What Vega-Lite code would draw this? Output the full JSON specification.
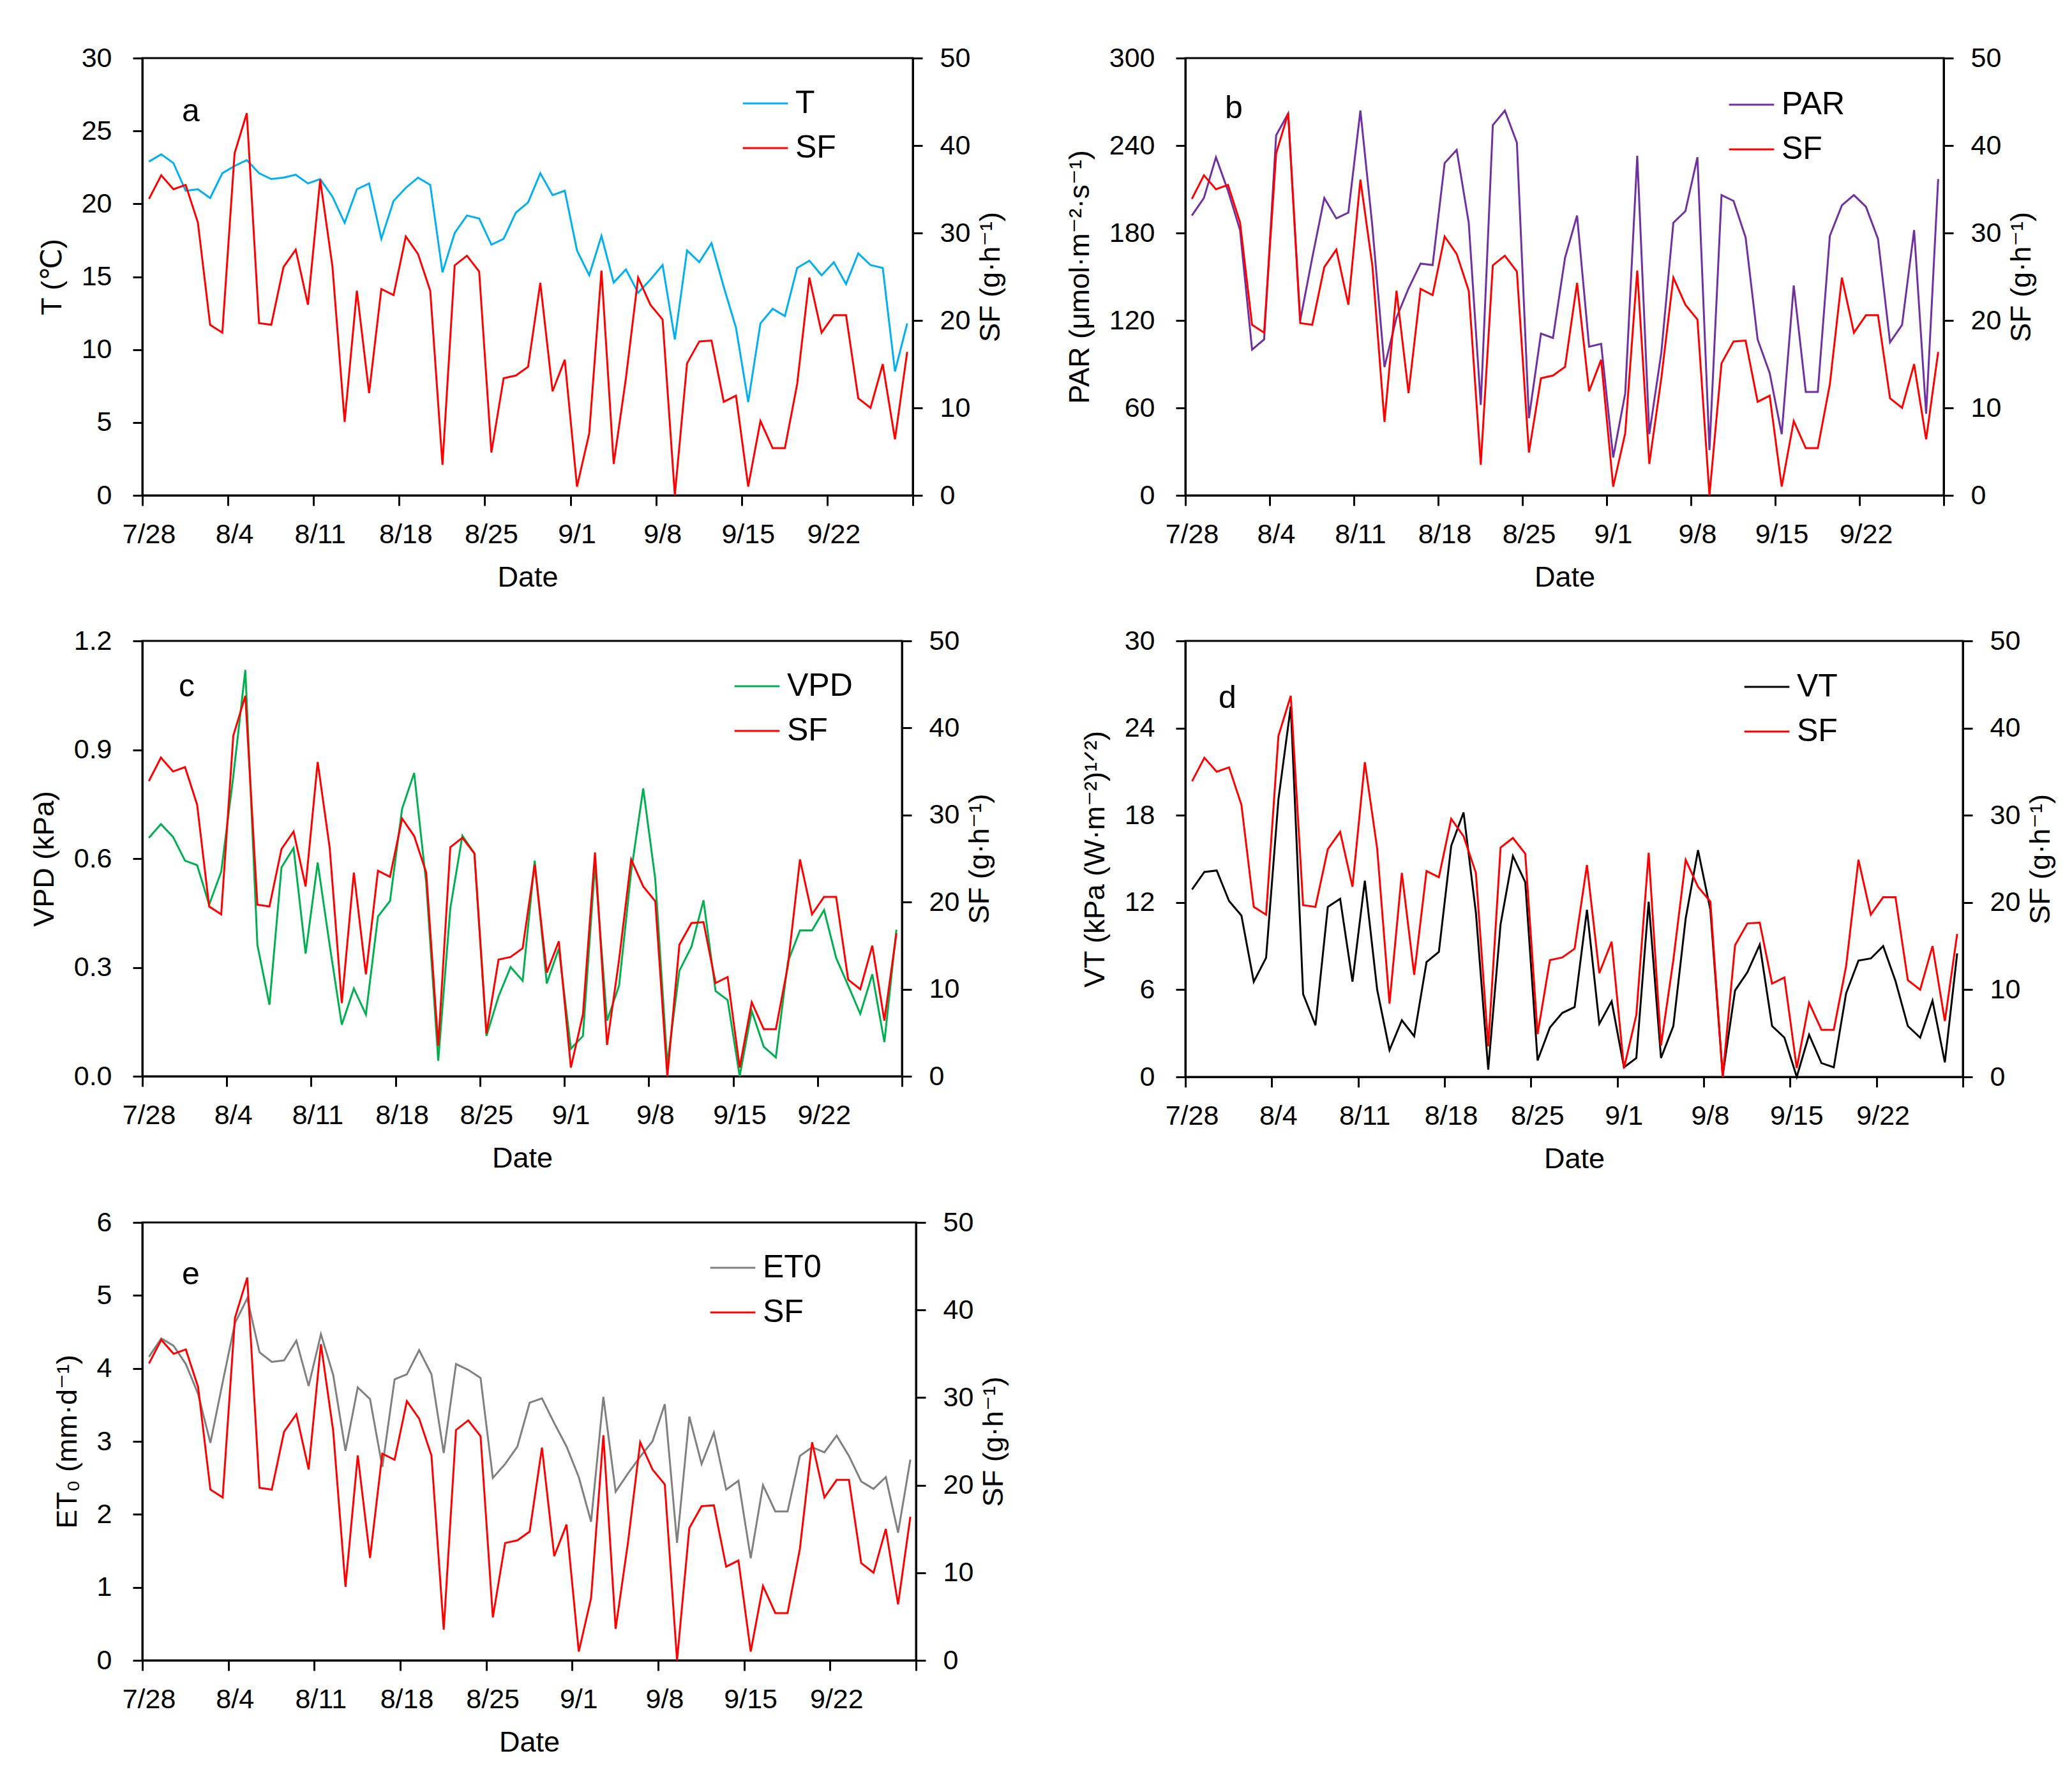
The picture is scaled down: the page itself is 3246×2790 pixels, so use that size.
{
  "$schema": "https://vega.github.io/schema/vega-lite/v6.json",
  "description": "Daily T, PAR, VPD, VT and ET0 against sap flow (SF), 7/28 to 9/28",
  "background": "white",
  "padding": {"left": 45, "top": 68, "right": 0, "bottom": 0},
  "config": {
    "font": "Liberation Sans, Arial, DejaVu Sans",
    "view": {"stroke": "#000", "strokeWidth": 3},
    "axis": {
      "grid": false,
      "domainColor": "#000", "domainWidth": 3,
      "tickColor": "#000", "tickWidth": 3, "tickSize": 15,
      "labelFontSize": 43, "labelColor": "#000", "labelFlush": false, "labelOverlap": false, "labelBound": false,
      "titleFontSize": 45, "titleFontWeight": "normal", "titleColor": "#000"
    },
    "legend": {
      "orient": "none", "padding": 0, "symbolType": "stroke", "symbolSize": 5000,
      "symbolStrokeWidth": 3, "labelFontSize": 50, "labelColor": "#000",
      "labelOffset": 10, "rowPadding": 8
    },
    "title": {"fontSize": 50, "fontWeight": "normal", "color": "#000", "anchor": "start", "frame": "group", "offset": 0, "baseline": "middle"}
  },
  "data": {"values": [
    {"date": "2021-07-28T13:00", "T": 22.9, "PAR": 192, "VPD": 0.657, "VT": 12.9, "ET0": 4.16, "SF": 33.9},
    {"date": "2021-07-29T13:00", "T": 23.4, "PAR": 204, "VPD": 0.695, "VT": 14.1, "ET0": 4.41, "SF": 36.6},
    {"date": "2021-07-30T13:00", "T": 22.8, "PAR": 232, "VPD": 0.66, "VT": 14.2, "ET0": 4.31, "SF": 35.0},
    {"date": "2021-07-31T13:00", "T": 20.9, "PAR": 209, "VPD": 0.594, "VT": 12.1, "ET0": 4.06, "SF": 35.5},
    {"date": "2021-08-01T13:00", "T": 21.0, "PAR": 182, "VPD": 0.582, "VT": 11.1, "ET0": 3.65, "SF": 31.2},
    {"date": "2021-08-02T13:00", "T": 20.4, "PAR": 100, "VPD": 0.473, "VT": 6.55, "ET0": 2.98, "SF": 19.5},
    {"date": "2021-08-03T13:00", "T": 22.1, "PAR": 107, "VPD": 0.564, "VT": 8.2, "ET0": 3.81, "SF": 18.6},
    {"date": "2021-08-04T13:00", "T": 22.6, "PAR": 247, "VPD": 0.826, "VT": 19.1, "ET0": 4.62, "SF": 39.1},
    {"date": "2021-08-05T13:00", "T": 23.0, "PAR": 262, "VPD": 1.12, "VT": 25.5, "ET0": 4.96, "SF": 43.7},
    {"date": "2021-08-06T13:00", "T": 22.1, "PAR": 120, "VPD": 0.362, "VT": 5.7, "ET0": 4.22, "SF": 19.7},
    {"date": "2021-08-07T13:00", "T": 21.7, "PAR": 163, "VPD": 0.197, "VT": 3.55, "ET0": 4.09, "SF": 19.5},
    {"date": "2021-08-08T13:00", "T": 21.8, "PAR": 204, "VPD": 0.576, "VT": 11.7, "ET0": 4.11, "SF": 26.1},
    {"date": "2021-08-09T13:00", "T": 22.0, "PAR": 190, "VPD": 0.629, "VT": 12.25, "ET0": 4.38, "SF": 28.1},
    {"date": "2021-08-10T13:00", "T": 21.4, "PAR": 194, "VPD": 0.338, "VT": 6.55, "ET0": 3.76, "SF": 21.8},
    {"date": "2021-08-11T13:00", "T": 21.7, "PAR": 264, "VPD": 0.589, "VT": 13.5, "ET0": 4.47, "SF": 36.1},
    {"date": "2021-08-12T13:00", "T": 20.5, "PAR": 184, "VPD": 0.36, "VT": 6.0, "ET0": 3.91, "SF": 26.2},
    {"date": "2021-08-13T13:00", "T": 18.7, "PAR": 88, "VPD": 0.142, "VT": 1.84, "ET0": 2.87, "SF": 8.4},
    {"date": "2021-08-14T13:00", "T": 21.0, "PAR": 122, "VPD": 0.242, "VT": 3.9, "ET0": 3.74, "SF": 23.4},
    {"date": "2021-08-15T13:00", "T": 21.4, "PAR": 142, "VPD": 0.17, "VT": 2.8, "ET0": 3.58, "SF": 11.7},
    {"date": "2021-08-16T13:00", "T": 17.6, "PAR": 159, "VPD": 0.44, "VT": 7.9, "ET0": 2.65, "SF": 23.6},
    {"date": "2021-08-17T13:00", "T": 20.2, "PAR": 158, "VPD": 0.483, "VT": 8.6, "ET0": 3.85, "SF": 22.9},
    {"date": "2021-08-18T13:00", "T": 21.1, "PAR": 228, "VPD": 0.737, "VT": 15.9, "ET0": 3.92, "SF": 29.6},
    {"date": "2021-08-19T13:00", "T": 21.8, "PAR": 237, "VPD": 0.836, "VT": 18.2, "ET0": 4.25, "SF": 27.6},
    {"date": "2021-08-20T13:00", "T": 21.3, "PAR": 187, "VPD": 0.533, "VT": 11.3, "ET0": 3.92, "SF": 23.4},
    {"date": "2021-08-21T13:00", "T": 15.3, "PAR": 62, "VPD": 0.043, "VT": 0.5, "ET0": 2.84, "SF": 3.5},
    {"date": "2021-08-22T13:00", "T": 18.0, "PAR": 254, "VPD": 0.463, "VT": 10.5, "ET0": 4.06, "SF": 26.3},
    {"date": "2021-08-23T13:00", "T": 19.2, "PAR": 264, "VPD": 0.663, "VT": 15.2, "ET0": 3.98, "SF": 27.4},
    {"date": "2021-08-24T13:00", "T": 19.0, "PAR": 242, "VPD": 0.614, "VT": 13.4, "ET0": 3.87, "SF": 25.6},
    {"date": "2021-08-25T13:00", "T": 17.2, "PAR": 53, "VPD": 0.111, "VT": 1.13, "ET0": 2.5, "SF": 4.9},
    {"date": "2021-08-26T13:00", "T": 17.6, "PAR": 111, "VPD": 0.22, "VT": 3.4, "ET0": 2.69, "SF": 13.4},
    {"date": "2021-08-27T13:00", "T": 19.4, "PAR": 108, "VPD": 0.301, "VT": 4.4, "ET0": 2.93, "SF": 13.7},
    {"date": "2021-08-28T13:00", "T": 20.1, "PAR": 163, "VPD": 0.263, "VT": 4.8, "ET0": 3.53, "SF": 14.7},
    {"date": "2021-08-29T13:00", "T": 22.1, "PAR": 192, "VPD": 0.594, "VT": 11.5, "ET0": 3.59, "SF": 24.3},
    {"date": "2021-08-30T13:00", "T": 20.6, "PAR": 102, "VPD": 0.256, "VT": 3.65, "ET0": 3.25, "SF": 11.9},
    {"date": "2021-08-31T13:00", "T": 20.9, "PAR": 104, "VPD": 0.352, "VT": 5.2, "ET0": 2.93, "SF": 15.5},
    {"date": "2021-09-01T13:00", "T": 16.8, "PAR": 26, "VPD": 0.076, "VT": 0.66, "ET0": 2.51, "SF": 1.0},
    {"date": "2021-09-02T13:00", "T": 15.1, "PAR": 70, "VPD": 0.111, "VT": 1.3, "ET0": 1.9, "SF": 7.1},
    {"date": "2021-09-03T13:00", "T": 17.8, "PAR": 233, "VPD": 0.584, "VT": 12.05, "ET0": 3.61, "SF": 25.7},
    {"date": "2021-09-04T13:00", "T": 14.6, "PAR": 42, "VPD": 0.153, "VT": 1.3, "ET0": 2.31, "SF": 3.6},
    {"date": "2021-09-05T13:00", "T": 15.5, "PAR": 98, "VPD": 0.25, "VT": 3.5, "ET0": 2.56, "SF": 13.4},
    {"date": "2021-09-06T13:00", "T": 13.9, "PAR": 187, "VPD": 0.564, "VT": 10.9, "ET0": 2.79, "SF": 24.9},
    {"date": "2021-09-07T13:00", "T": 14.8, "PAR": 195, "VPD": 0.793, "VT": 15.6, "ET0": 3.0, "SF": 21.8},
    {"date": "2021-09-08T13:00", "T": 15.8, "PAR": 232, "VPD": 0.543, "VT": 11.5, "ET0": 3.51, "SF": 20.1},
    {"date": "2021-09-09T13:00", "T": 10.7, "PAR": 31, "VPD": 0.033, "VT": 0.1, "ET0": 1.61, "SF": 0.0},
    {"date": "2021-09-10T13:00", "T": 16.8, "PAR": 206, "VPD": 0.291, "VT": 5.95, "ET0": 3.34, "SF": 15.1},
    {"date": "2021-09-11T13:00", "T": 16.0, "PAR": 202, "VPD": 0.357, "VT": 7.2, "ET0": 2.69, "SF": 17.6},
    {"date": "2021-09-12T13:00", "T": 17.3, "PAR": 177, "VPD": 0.485, "VT": 9.1, "ET0": 3.12, "SF": 17.7},
    {"date": "2021-09-13T13:00", "T": 14.3, "PAR": 107, "VPD": 0.235, "VT": 3.5, "ET0": 2.34, "SF": 10.7},
    {"date": "2021-09-14T13:00", "T": 11.5, "PAR": 84, "VPD": 0.21, "VT": 2.7, "ET0": 2.46, "SF": 11.4},
    {"date": "2021-09-15T13:00", "T": 6.4, "PAR": 42, "VPD": 0.0, "VT": 0.0, "ET0": 1.4, "SF": 1.0},
    {"date": "2021-09-16T13:00", "T": 11.8, "PAR": 144, "VPD": 0.18, "VT": 2.9, "ET0": 2.4, "SF": 8.5},
    {"date": "2021-09-17T13:00", "T": 12.8, "PAR": 71, "VPD": 0.081, "VT": 0.95, "ET0": 2.04, "SF": 5.4},
    {"date": "2021-09-18T13:00", "T": 12.3, "PAR": 71, "VPD": 0.052, "VT": 0.66, "ET0": 2.04, "SF": 5.4},
    {"date": "2021-09-19T13:00", "T": 15.6, "PAR": 178, "VPD": 0.316, "VT": 5.75, "ET0": 2.8, "SF": 12.7},
    {"date": "2021-09-20T13:00", "T": 16.1, "PAR": 199, "VPD": 0.402, "VT": 8.0, "ET0": 2.92, "SF": 24.9},
    {"date": "2021-09-21T13:00", "T": 15.1, "PAR": 206, "VPD": 0.402, "VT": 8.15, "ET0": 2.85, "SF": 18.6},
    {"date": "2021-09-22T13:00", "T": 16.0, "PAR": 198, "VPD": 0.458, "VT": 9.0, "ET0": 3.08, "SF": 20.6},
    {"date": "2021-09-23T13:00", "T": 14.5, "PAR": 176, "VPD": 0.326, "VT": 6.6, "ET0": 2.8, "SF": 20.6},
    {"date": "2021-09-24T13:00", "T": 16.6, "PAR": 105, "VPD": 0.25, "VT": 3.5, "ET0": 2.45, "SF": 11.1},
    {"date": "2021-09-25T13:00", "T": 15.8, "PAR": 117, "VPD": 0.172, "VT": 2.7, "ET0": 2.35, "SF": 10.0},
    {"date": "2021-09-26T13:00", "T": 15.6, "PAR": 182, "VPD": 0.281, "VT": 5.25, "ET0": 2.51, "SF": 15.0},
    {"date": "2021-09-27T13:00", "T": 8.5, "PAR": 56, "VPD": 0.094, "VT": 1.0, "ET0": 1.75, "SF": 6.4},
    {"date": "2021-09-28T13:00", "T": 11.8, "PAR": 217, "VPD": 0.404, "VT": 8.5, "ET0": 2.75, "SF": 16.4}
  ]},
  "concat": [
    {
      "width": 1207, "height": 685,
      "title": {"text": "a", "dx": 62, "dy": 134},
      "layer": [
        {
          "mark": {"type": "line", "strokeWidth": 3},
          "encoding": {
            "x": {"field": "date", "type": "temporal",
              "scale": {"domain": [{"year": 2021, "month": 7, "date": 28}, {"year": 2021, "month": 9, "date": 29}]},
              "axis": {"title": "Date", "format": "%-m/%-d", "labelExpr": "datum.label == '9/29' ? '' : datum.label",
                "values": [{"year": 2021, "month": 7, "date": 28}, {"year": 2021, "month": 8, "date": 4}, {"year": 2021, "month": 8, "date": 11}, {"year": 2021, "month": 8, "date": 18}, {"year": 2021, "month": 8, "date": 25}, {"year": 2021, "month": 9, "date": 1}, {"year": 2021, "month": 9, "date": 8}, {"year": 2021, "month": 9, "date": 15}, {"year": 2021, "month": 9, "date": 22}, {"year": 2021, "month": 9, "date": 29}],
                "tickSize": 16, "labelPadding": 24, "labelOffset": 10, "titlePadding": 23}},
            "y": {"field": "T", "type": "quantitative", "scale": {"domain": [0, 30]},
              "axis": {"orient": "left", "title": "T (℃)", "values": [0, 5, 10, 15, 20, 25, 30], "labelPadding": 33, "titlePadding": 23}},
            "color": {"datum": "T", "scale": {"domain": ["T", "SF"], "range": ["#00b0f0", "#ff0000"]},
              "legend": {"title": null, "legendX": 939, "legendY": 34}}
          }
        },
        {
          "mark": {"type": "line", "strokeWidth": 3},
          "encoding": {
            "x": {"field": "date", "type": "temporal"},
            "y": {"field": "SF", "type": "quantitative", "scale": {"domain": [0, 50]},
              "axis": {"orient": "right", "title": "SF (g·h⁻¹)", "values": [0, 10, 20, 30, 40, 50], "labelPadding": 27, "titlePadding": 10, "titleAngle": 270, "titleBaseline": "top"}},
            "color": {"datum": "SF"}
          }
        }
      ],
      "resolve": {"scale": {"y": "independent"}}
    },
    {
      "width": 1188, "height": 685,
      "title": {"text": "b", "dx": 62, "dy": 129},
      "layer": [
        {
          "mark": {"type": "line", "strokeWidth": 3},
          "encoding": {
            "x": {"field": "date", "type": "temporal",
              "scale": {"domain": [{"year": 2021, "month": 7, "date": 28}, {"year": 2021, "month": 9, "date": 29}]},
              "axis": {"title": "Date", "format": "%-m/%-d", "labelExpr": "datum.label == '9/29' ? '' : datum.label",
                "values": [{"year": 2021, "month": 7, "date": 28}, {"year": 2021, "month": 8, "date": 4}, {"year": 2021, "month": 8, "date": 11}, {"year": 2021, "month": 8, "date": 18}, {"year": 2021, "month": 8, "date": 25}, {"year": 2021, "month": 9, "date": 1}, {"year": 2021, "month": 9, "date": 8}, {"year": 2021, "month": 9, "date": 15}, {"year": 2021, "month": 9, "date": 22}, {"year": 2021, "month": 9, "date": 29}],
                "tickSize": 16, "labelPadding": 24, "labelOffset": 10, "titlePadding": 23}},
            "y": {"field": "PAR", "type": "quantitative", "scale": {"domain": [0, 300]},
              "axis": {"orient": "left", "title": "PAR (μmol·m⁻²·s⁻¹)", "values": [0, 60, 120, 180, 240, 300], "labelPadding": 33, "titlePadding": 23}},
            "color": {"datum": "PAR", "scale": {"domain": ["PAR", "SF"], "range": ["#7030a0", "#ff0000"]},
              "legend": {"title": null, "legendX": 850, "legendY": 36}}
          }
        },
        {
          "mark": {"type": "line", "strokeWidth": 3},
          "encoding": {
            "x": {"field": "date", "type": "temporal"},
            "y": {"field": "SF", "type": "quantitative", "scale": {"domain": [0, 50]},
              "axis": {"orient": "right", "title": "SF (g·h⁻¹)", "values": [0, 10, 20, 30, 40, 50], "labelPadding": 27, "titlePadding": 10, "titleAngle": 270, "titleBaseline": "top"}},
            "color": {"datum": "SF"}
          }
        }
      ],
      "resolve": {"scale": {"y": "independent"}}
    },
    {
      "width": 1190, "height": 682,
      "title": {"text": "c", "dx": 57, "dy": 122},
      "layer": [
        {
          "mark": {"type": "line", "strokeWidth": 3},
          "encoding": {
            "x": {"field": "date", "type": "temporal",
              "scale": {"domain": [{"year": 2021, "month": 7, "date": 28}, {"year": 2021, "month": 9, "date": 29}]},
              "axis": {"title": "Date", "format": "%-m/%-d", "labelExpr": "datum.label == '9/29' ? '' : datum.label",
                "values": [{"year": 2021, "month": 7, "date": 28}, {"year": 2021, "month": 8, "date": 4}, {"year": 2021, "month": 8, "date": 11}, {"year": 2021, "month": 8, "date": 18}, {"year": 2021, "month": 8, "date": 25}, {"year": 2021, "month": 9, "date": 1}, {"year": 2021, "month": 9, "date": 8}, {"year": 2021, "month": 9, "date": 15}, {"year": 2021, "month": 9, "date": 22}, {"year": 2021, "month": 9, "date": 29}],
                "tickSize": 16, "labelPadding": 24, "labelOffset": 10, "titlePadding": 23}},
            "y": {"field": "VPD", "type": "quantitative", "scale": {"domain": [0, 1.2]},
              "axis": {"orient": "left", "title": "VPD (kPa)", "format": ".1f", "values": [0, 0.3, 0.6, 0.9, 1.2], "labelPadding": 33, "titlePadding": 23}},
            "color": {"datum": "VPD", "scale": {"domain": ["VPD", "SF"], "range": ["#00b050", "#ff0000"]},
              "legend": {"title": null, "legendX": 926, "legendY": 34}}
          }
        },
        {
          "mark": {"type": "line", "strokeWidth": 3},
          "encoding": {
            "x": {"field": "date", "type": "temporal"},
            "y": {"field": "SF", "type": "quantitative", "scale": {"domain": [0, 50]},
              "axis": {"orient": "right", "title": "SF (g·h⁻¹)", "values": [0, 10, 20, 30, 40, 50], "labelPadding": 27, "titlePadding": 10, "titleAngle": 270, "titleBaseline": "top"}},
            "color": {"datum": "SF"}
          }
        }
      ],
      "resolve": {"scale": {"y": "independent"}}
    },
    {
      "width": 1218, "height": 683,
      "title": {"text": "d", "dx": 52, "dy": 140},
      "layer": [
        {
          "mark": {"type": "line", "strokeWidth": 3},
          "encoding": {
            "x": {"field": "date", "type": "temporal",
              "scale": {"domain": [{"year": 2021, "month": 7, "date": 28}, {"year": 2021, "month": 9, "date": 29}]},
              "axis": {"title": "Date", "format": "%-m/%-d", "labelExpr": "datum.label == '9/29' ? '' : datum.label",
                "values": [{"year": 2021, "month": 7, "date": 28}, {"year": 2021, "month": 8, "date": 4}, {"year": 2021, "month": 8, "date": 11}, {"year": 2021, "month": 8, "date": 18}, {"year": 2021, "month": 8, "date": 25}, {"year": 2021, "month": 9, "date": 1}, {"year": 2021, "month": 9, "date": 8}, {"year": 2021, "month": 9, "date": 15}, {"year": 2021, "month": 9, "date": 22}, {"year": 2021, "month": 9, "date": 29}],
                "tickSize": 16, "labelPadding": 24, "labelOffset": 10, "titlePadding": 23}},
            "y": {"field": "VT", "type": "quantitative", "scale": {"domain": [0, 30]},
              "axis": {"orient": "left", "title": "VT (kPa (W·m⁻²)¹ᐟ²)", "values": [0, 6, 12, 18, 24, 30], "labelPadding": 33, "titlePadding": 23}},
            "color": {"datum": "VT", "scale": {"domain": ["VT", "SF"], "range": ["#000000", "#ff0000"]},
              "legend": {"title": null, "legendX": 874, "legendY": 35}}
          }
        },
        {
          "mark": {"type": "line", "strokeWidth": 3},
          "encoding": {
            "x": {"field": "date", "type": "temporal"},
            "y": {"field": "SF", "type": "quantitative", "scale": {"domain": [0, 50]},
              "axis": {"orient": "right", "title": "SF (g·h⁻¹)", "values": [0, 10, 20, 30, 40, 50], "labelPadding": 27, "titlePadding": 10, "titleAngle": 270, "titleBaseline": "top"}},
            "color": {"datum": "SF"}
          }
        }
      ],
      "resolve": {"scale": {"y": "independent"}}
    },
    {
      "width": 1212, "height": 686,
      "title": {"text": "e", "dx": 62, "dy": 132},
      "layer": [
        {
          "mark": {"type": "line", "strokeWidth": 3},
          "encoding": {
            "x": {"field": "date", "type": "temporal",
              "scale": {"domain": [{"year": 2021, "month": 7, "date": 28}, {"year": 2021, "month": 9, "date": 29}]},
              "axis": {"title": "Date", "format": "%-m/%-d", "labelExpr": "datum.label == '9/29' ? '' : datum.label",
                "values": [{"year": 2021, "month": 7, "date": 28}, {"year": 2021, "month": 8, "date": 4}, {"year": 2021, "month": 8, "date": 11}, {"year": 2021, "month": 8, "date": 18}, {"year": 2021, "month": 8, "date": 25}, {"year": 2021, "month": 9, "date": 1}, {"year": 2021, "month": 9, "date": 8}, {"year": 2021, "month": 9, "date": 15}, {"year": 2021, "month": 9, "date": 22}, {"year": 2021, "month": 9, "date": 29}],
                "tickSize": 16, "labelPadding": 24, "labelOffset": 10, "titlePadding": 23}},
            "y": {"field": "ET0", "type": "quantitative", "scale": {"domain": [0, 6]},
              "axis": {"orient": "left", "title": "ET₀ (mm·d⁻¹)", "values": [0, 1, 2, 3, 4, 5, 6], "labelPadding": 33, "titlePadding": 23}},
            "color": {"datum": "ET0", "scale": {"domain": ["ET0", "SF"], "range": ["#808080", "#ff0000"]},
              "legend": {"title": null, "legendX": 888, "legendY": 34}}
          }
        },
        {
          "mark": {"type": "line", "strokeWidth": 3},
          "encoding": {
            "x": {"field": "date", "type": "temporal"},
            "y": {"field": "SF", "type": "quantitative", "scale": {"domain": [0, 50]},
              "axis": {"orient": "right", "title": "SF (g·h⁻¹)", "values": [0, 10, 20, 30, 40, 50], "labelPadding": 27, "titlePadding": 10, "titleAngle": 270, "titleBaseline": "top"}},
            "color": {"datum": "SF"}
          }
        }
      ],
      "resolve": {"scale": {"y": "independent"}}
    }
  ],
  "columns": 2,
  "spacing": {"row": 52, "column": 85},
  "resolve": {"scale": {"x": "independent", "y": "independent", "color": "independent"}}
}
